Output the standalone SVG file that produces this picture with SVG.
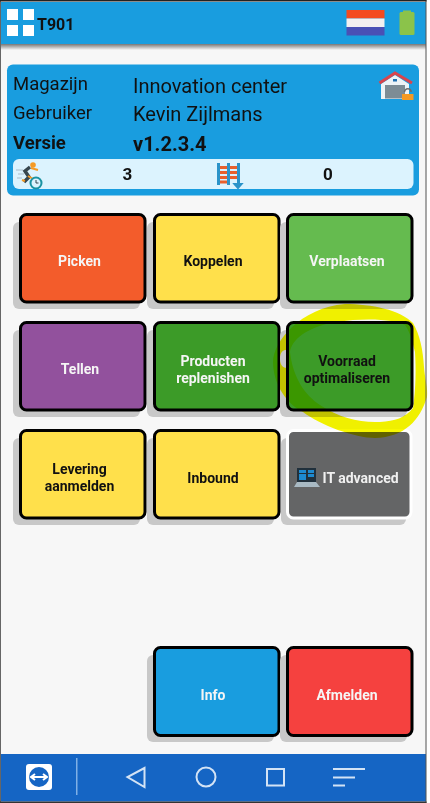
<svg xmlns="http://www.w3.org/2000/svg" width="430" height="803" viewBox="0 0 430 803">
<style>
text{font-family:Roboto,"Liberation Sans",sans-serif;fill:#111}
.l{font-size:18.500px}
.v{font-size:20px}
.b{font-size:18.500px;font-weight:700}
.bv{font-size:20px;font-weight:700}
.t{font-size:14px;font-weight:700;text-anchor:middle}
.w{fill:#f5f5f5}
.tile{stroke:#000;stroke-width:3}
.sh{fill:#c8c8c8}
.nav{fill:none;stroke:#d3e3f5;stroke-width:2}
</style>
<defs>
<filter id="soft" x="-2%" y="-2%" width="104%" height="104%"><feGaussianBlur stdDev="0.35"/></filter>
<linearGradient id="topshadow" x1="0" y1="0" x2="0" y2="1"><stop offset="0" stop-color="#777"/><stop offset="1" stop-color="#f7f7f7"/></linearGradient>
</defs>
<rect width="430" height="803" fill="#fff"/>
<g filter="url(#soft)">
<rect x="0" y="0" width="426.500" height="803" fill="#f7f7f7"/>
<g id="header">
<rect x="0" y="2" width="426" height="43" fill="#199ddf"/>
<rect x="0" y="44" width="426" height="6" fill="url(#topshadow)"/>
<rect x="7" y="9" width="11" height="11" fill="#fff"/>
<rect x="23" y="9" width="11" height="11" fill="#fff"/>
<rect x="7" y="25" width="11" height="11" fill="#fff"/>
<rect x="23" y="25" width="11" height="11" fill="#fff"/>
<text x="37" y="30" style="font-size:16px;font-weight:700">T901</text>
<rect x="346.500" y="10" width="38" height="8.500" fill="#f44a1f"/>
<rect x="346.500" y="18.500" width="38" height="8.500" fill="#f3f0f0"/>
<rect x="346.500" y="27" width="38" height="8.500" fill="#4a50b5"/>
<rect x="399.500" y="12" width="15" height="23" rx="1.500" fill="#8bc34a"/>
<rect x="403" y="10.500" width="8" height="2" fill="#8bc34a"/>
</g>
<g id="info-card">
<rect x="7" y="64.500" width="412" height="131" rx="6" fill="#199ddf"/>
<text class="l" x="13" y="90">Magazijn</text>
<text class="l" x="13" y="119">Gebruiker</text>
<text class="b" x="13" y="149">Versie</text>
<text class="v" x="133" y="92.500">Innovation center</text>
<text class="v" x="133" y="121">Kevin Zijlmans</text>
<text class="bv" x="133" y="150.500">v1.2.3.4</text>
<g id="warehouse-icon">
<path d="M381,84 L381,99 L409,99 L409,84 L395,75 Z" fill="#eef3f6"/>
<path d="M379.500,83 L395,73 L412,83" fill="none" stroke="#d9444c" stroke-width="3"/>
<rect x="385" y="85" width="20" height="13.500" fill="#7d8c95"/>
<rect x="393" y="79" width="4" height="2.500" fill="#1f6fb0"/>
<path d="M404.500,92 a3.300,3.300 0 0 1 6.600,0" fill="none" stroke="#6d6d6d" stroke-width="1.500"/>
<rect x="402" y="94" width="11.500" height="6" fill="#f59a23"/>
</g>
<rect x="13" y="159" width="400.500" height="30" rx="6" fill="#dcf3fe"/>
<g id="runner-icon">
<path d="M16,170 h7 M18,174 h6 M17,178 h5" stroke="#a9bccb" stroke-width="1"/>
<circle cx="33" cy="165" r="2.800" fill="#f59a23"/>
<path d="M30,167 L25,171 L29,177 L24,182" fill="none" stroke="#37474f" stroke-width="3.500"/>
<path d="M31,168 L38,170 M28,176 L35,180 M25,181 L22,180" fill="none" stroke="#f59a23" stroke-width="2"/>
<circle cx="36" cy="183" r="5.500" fill="#dcf3fe" stroke="#1a93a3" stroke-width="2"/>
<path d="M36,180 v3 h2.500" fill="none" stroke="#37474f" stroke-width="1"/>
</g>
<text x="127.500" y="180" style="font-size:17px;font-weight:700;text-anchor:middle">3</text>
<g id="rack-icon">
<path d="M220,167.500 h17 M220,172.500 h17 M220,177.500 h17 M220,182 h7" stroke="#e8602c" stroke-width="3"/>
<rect x="217" y="163" width="3" height="22" fill="#2a93c9"/>
<rect x="227" y="163" width="3" height="22" fill="#2a93c9"/>
<rect x="237" y="163" width="3" height="22" fill="#2a93c9"/>
<path d="M238,180 v5 M234.500,184 L238,188 L241.500,184 Z" stroke="#2a93c9" stroke-width="2" fill="#2a93c9"/>
</g>
<text x="328" y="180" style="font-size:17px;font-weight:700;text-anchor:middle">0</text>
</g>
<g id="btn-picken"><rect class="sh" x="13" y="222" width="127" height="87" rx="6"/><rect class="tile" x="20.500" y="214.500" width="124.500" height="87.500" rx="6" fill="#f35c2b"/><text class="t w" x="79.500" y="266">Picken</text></g>
<g id="btn-koppelen"><rect class="sh" x="147" y="222" width="127" height="87" rx="6"/><rect class="tile" x="154.500" y="214.500" width="124.500" height="87.500" rx="6" fill="#ffe04b"/><text class="t" x="213" y="266">Koppelen</text></g>
<g id="btn-verplaatsen"><rect class="sh" x="280" y="222" width="127" height="87" rx="6"/><rect class="tile" x="287.500" y="214.500" width="124.500" height="87.500" rx="6" fill="#65bb4f"/><text class="t w" x="347" y="266">Verplaatsen</text></g>
<g id="btn-tellen"><rect class="sh" x="13" y="330" width="127" height="87" rx="6"/><rect class="tile" x="20.500" y="322.500" width="124.500" height="87.500" rx="6" fill="#92519d"/><text class="t w" x="80" y="374">Tellen</text></g>
<g id="btn-producten"><rect class="sh" x="147" y="330" width="127" height="87" rx="6"/><rect class="tile" x="154.500" y="322.500" width="124.500" height="87.500" rx="6" fill="#3c9b28"/><text class="t w" x="213" y="366">Producten</text><text class="t w" x="213" y="383">replenishen</text></g>
<g id="btn-voorraad"><rect class="sh" x="280" y="330" width="127" height="87" rx="6"/><rect class="tile" x="287.500" y="322.500" width="124.500" height="87.500" rx="6" fill="#3c9b28"/><text class="t" x="347" y="366">Voorraad</text><text class="t" x="347" y="383">optimaliseren</text></g>
<g id="btn-levering"><rect class="sh" x="13" y="438" width="127" height="87" rx="6"/><rect class="tile" x="20.500" y="430.500" width="124.500" height="87.500" rx="6" fill="#ffe04b"/><text class="t" x="79.500" y="474">Levering</text><text class="t" x="79.500" y="491">aanmelden</text></g>
<g id="btn-inbound"><rect class="sh" x="147" y="438" width="127" height="87" rx="6"/><rect class="tile" x="154.500" y="430.500" width="124.500" height="87.500" rx="6" fill="#ffe04b"/><text class="t" x="213" y="483">Inbound</text></g>
<g id="btn-it"><rect class="sh" x="281" y="438" width="125" height="87" rx="6"/><rect x="287.500" y="430.500" width="123.500" height="87.500" rx="6" fill="#646566" stroke="#fff" stroke-width="3"/>
<g id="laptop-icon"><rect x="297" y="468" width="19" height="14" fill="#20303c"/><path d="M299,470 h7 v3 h-7 z M308,470 h6 v3 h-6 z M299,474 h7 v6 h-7 z M308,474 h6 v3 h-6 z" fill="#1d8ad0"/><path d="M297,482 h19 l4,5 h-26 z" fill="#a9bac4"/></g>
<text x="322.500" y="483" style="font-size:14px;font-weight:700;fill:#f0f0f0">IT advanced</text></g>
<g id="btn-info"><rect class="sh" x="147" y="655" width="127" height="87" rx="6"/><rect class="tile" x="154.500" y="647.500" width="124.500" height="88" rx="6" fill="#199ddf"/><text class="t w" x="213" y="700">Info</text></g>
<g id="btn-afmelden"><rect class="sh" x="280" y="655" width="127" height="87" rx="6"/><rect class="tile" x="287.500" y="647.500" width="124.500" height="88" rx="6" fill="#f5413f"/><text class="t w" x="347" y="700">Afmelden</text></g>
<path id="highlight" style="mix-blend-mode:multiply" fill="#f8f800" fill-rule="evenodd" d="M345,304 C372,304 400,310 413,323 C420,335 423,350 424,367 C425,380 428,388 427,397 C420,420 405,437 375,438 C355,438 320,425 303,412 C288,405 273,385 273,362 C273,342 300,308 345,304 Z M290,352 C292,340 305,328 335,322 C370,317 395,320 405,325 C410,332 412,340 415,352 C416,368 416,388 413,408 C405,418 395,421 380,422 C360,423 340,418 320,405 C305,395 293,378 290,352 Z M280,359 C280,352 283,350 286,350 L287,368 C283,368 280,365 280,359 Z"/>
<g id="nav-bar">
<rect x="0" y="754" width="426" height="47.500" fill="#1565c4"/>
<rect x="26" y="764" width="26" height="26" rx="3" fill="#fff"/>
<circle cx="39" cy="777" r="10" fill="#1565c4"/>
<path d="M32,777 h14" stroke="#fff" stroke-width="2"/>
<path d="M35,774 l-4,3 l4,3 M43,774 l4,3 l-4,3" fill="none" stroke="#fff" stroke-width="2"/>
<rect x="76" y="758" width="1.500" height="37" fill="#7fb0e6"/>
<path class="nav" d="M144.500,768 L127.500,777 L144.500,787 Z"/>
<circle class="nav" cx="206" cy="777" r="9.500"/>
<rect class="nav" x="267" y="769" width="17" height="16.500"/>
<path class="nav" d="M333,769 h32 M333,777.500 h22 M333,785.500 h12"/>
</g>
<rect id="frame-left" x="0" y="0" width="1" height="803" fill="#666"/>
<rect id="frame-right" x="425.500" y="0" width="1" height="803" fill="#555"/>
<rect id="frame-top" x="0" y="0" width="426.500" height="1.500" fill="#222"/>
<rect id="frame-bottom" x="0" y="801.500" width="426.500" height="1.500" fill="#333"/>
</g>
</svg>
